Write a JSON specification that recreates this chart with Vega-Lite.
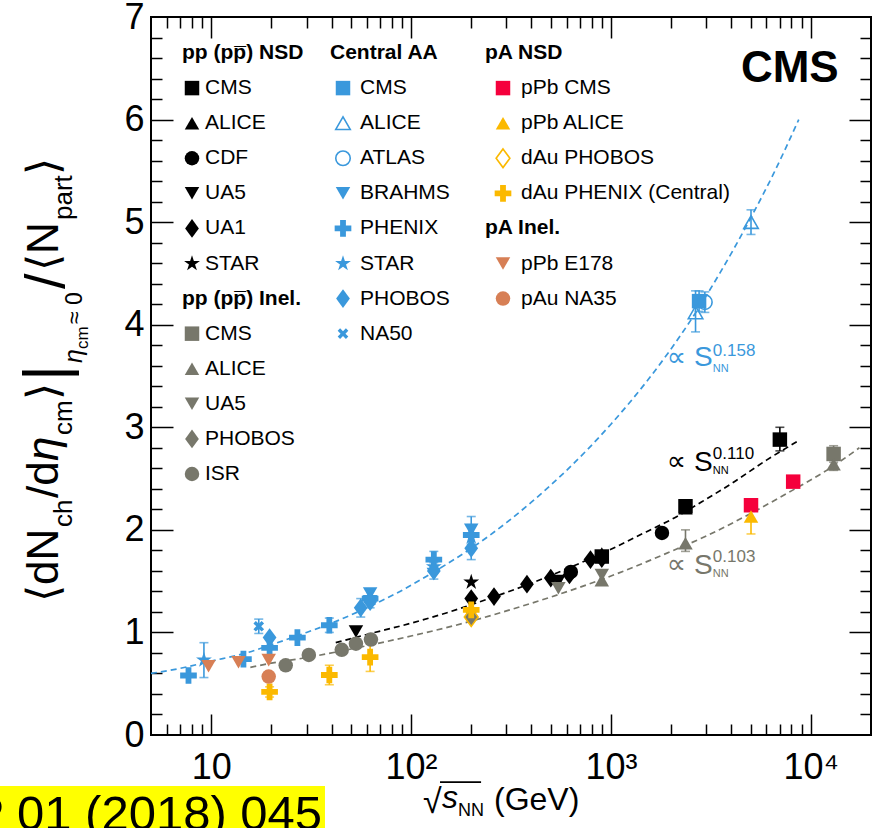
{
"$schema": "https://vega.github.io/schema/vega-lite/v6.json",
"width": 720, "height": 718,
"autosize": "none",
"padding": {"left": 151, "top": 17, "right": 1, "bottom": 93},
"background": "white",
"config": {
  "view": {"stroke": "#000", "strokeWidth": 2},
  "axis": {"grid": false, "domain": false, "tickColor": "#000", "tickWidth": 1.5, "labelFont": "Liberation Sans", "labelColor": "#000"},
  "text": {"font": "Liberation Sans"}
},
"datasets": {
  "points": [
    {"series":"NSD CMS","x":900,"y":1.74},
    {"series":"NSD CMS","x":2360,"y":2.23,"lo":2.17,"hi":2.29},
    {"series":"NSD CMS","x":7000,"y":2.88,"lo":2.77,"hi":3.0},
    {"series":"NSD ALICE","x":900,"y":1.77},
    {"series":"NSD ALICE","x":2360,"y":2.21},
    {"series":"NSD CDF","x":630,"y":1.59},
    {"series":"NSD CDF","x":1800,"y":1.97,"lo":1.93,"hi":2.01},
    {"series":"NSD UA5","x":53,"y":1.01},
    {"series":"NSD UA5","x":546,"y":1.5},
    {"series":"NSD UA5","x":900,"y":1.7},
    {"series":"NSD UA1","x":200,"y":1.33},
    {"series":"NSD UA1","x":260,"y":1.35},
    {"series":"NSD UA1","x":380,"y":1.47},
    {"series":"NSD UA1","x":500,"y":1.53},
    {"series":"NSD UA1","x":620,"y":1.56},
    {"series":"NSD UA1","x":790,"y":1.71},
    {"series":"NSD UA1","x":900,"y":1.72},
    {"series":"NSD STAR","x":200,"y":1.49},
    {"series":"Inel CMS","x":13000,"y":2.74,"lo":2.66,"hi":2.82},
    {"series":"Inel ALICE","x":900,"y":1.51},
    {"series":"Inel ALICE","x":2360,"y":1.87,"lo":1.79,"hi":2.0},
    {"series":"Inel ALICE","x":13000,"y":2.64,"lo":2.58,"hi":2.7},
    {"series":"Inel UA5","x":200,"y":1.17},
    {"series":"Inel UA5","x":546,"y":1.43},
    {"series":"Inel UA5","x":900,"y":1.56},
    {"series":"Inel PHOBOS","x":200,"y":1.15},
    {"series":"Inel ISR","x":23.6,"y":0.68},
    {"series":"Inel ISR","x":30.8,"y":0.78},
    {"series":"Inel ISR","x":45,"y":0.83},
    {"series":"Inel ISR","x":53,"y":0.89},
    {"series":"Inel ISR","x":63,"y":0.93},
    {"series":"AA CMS","x":2760,"y":4.23,"lo":4.13,"hi":4.33},
    {"series":"AA ALICE","x":2650,"y":4.12,"lo":3.93,"hi":4.33},
    {"series":"AA ALICE","x":5020,"y":5.0,"lo":4.88,"hi":5.12},
    {"series":"AA ATLAS","x":2950,"y":4.22,"lo":4.12,"hi":4.32},
    {"series":"AA BRAHMS","x":62.4,"y":1.38},
    {"series":"AA BRAHMS","x":130,"y":1.57},
    {"series":"AA BRAHMS","x":200,"y":2.0},
    {"series":"AA PHENIX","x":7.7,"y":0.58},
    {"series":"AA PHENIX","x":14.5,"y":0.74},
    {"series":"AA PHENIX","x":19.6,"y":0.85},
    {"series":"AA PHENIX","x":27,"y":0.95},
    {"series":"AA PHENIX","x":39,"y":1.07,"lo":1.0,"hi":1.14},
    {"series":"AA PHENIX","x":62.4,"y":1.33,"lo":1.24,"hi":1.42},
    {"series":"AA PHENIX","x":130,"y":1.71,"lo":1.63,"hi":1.79},
    {"series":"AA PHENIX","x":200,"y":1.95,"lo":1.86,"hi":2.05},
    {"series":"AA STAR","x":9.2,"y":0.73,"lo":0.56,"hi":0.9},
    {"series":"AA STAR","x":62.4,"y":1.34},
    {"series":"AA STAR","x":130,"y":1.64},
    {"series":"AA STAR","x":200,"y":1.93,"lo":1.8,"hi":2.13},
    {"series":"AA PHOBOS","x":19.6,"y":0.95},
    {"series":"AA PHOBOS","x":56,"y":1.24,"lo":1.15,"hi":1.33},
    {"series":"AA PHOBOS","x":62.4,"y":1.3},
    {"series":"AA PHOBOS","x":130,"y":1.6,"lo":1.52,"hi":1.68},
    {"series":"AA PHOBOS","x":200,"y":1.82,"lo":1.71,"hi":1.93},
    {"series":"AA NA50","x":17.3,"y":1.06,"lo":0.99,"hi":1.13},
    {"series":"pPb CMS","x":5020,"y":2.24},
    {"series":"pPb CMS","x":8160,"y":2.47},
    {"series":"pPb ALICE","x":5020,"y":2.13,"lo":1.96,"hi":2.3},
    {"series":"dAu PHOBOS","x":200,"y":1.15},
    {"series":"dAu PHENIX","x":19.6,"y":0.42,"lo":0.37,"hi":0.47},
    {"series":"dAu PHENIX","x":39,"y":0.585,"lo":0.49,"hi":0.68},
    {"series":"dAu PHENIX","x":62.4,"y":0.76,"lo":0.62,"hi":0.9},
    {"series":"dAu PHENIX","x":200,"y":1.22,"lo":1.12,"hi":1.32},
    {"series":"pPb E178","x":9.7,"y":0.67},
    {"series":"pPb E178","x":13.7,"y":0.71},
    {"series":"pPb E178","x":19.4,"y":0.73},
    {"series":"pAu NA35","x":19.4,"y":0.57}
  ],
  "fits": [
    {"series":"fit AA","x":5,"y":0.6},{"series":"fit AA","x":7,"y":0.65},{"series":"fit AA","x":10,"y":0.72},{"series":"fit AA","x":15,"y":0.8},{"series":"fit AA","x":20,"y":0.88},{"series":"fit AA","x":30,"y":1.0},{"series":"fit AA","x":40,"y":1.09},{"series":"fit AA","x":60,"y":1.24},{"series":"fit AA","x":88,"y":1.4},{"series":"fit AA","x":130,"y":1.59},{"series":"fit AA","x":200,"y":1.82},{"series":"fit AA","x":300,"y":2.07},{"series":"fit AA","x":400,"y":2.27},{"series":"fit AA","x":600,"y":2.58},{"series":"fit AA","x":1000,"y":3.03},{"series":"fit AA","x":1500,"y":3.44},{"series":"fit AA","x":2500,"y":4.04},{"series":"fit AA","x":3500,"y":4.5},{"series":"fit AA","x":5000,"y":5.04},{"series":"fit AA","x":6500,"y":5.47},{"series":"fit AA","x":8700,"y":6.0},
    {"series":"fit NSD","x":42,"y":0.9},{"series":"fit NSD","x":60,"y":0.98},{"series":"fit NSD","x":100,"y":1.09},{"series":"fit NSD","x":150,"y":1.19},{"series":"fit NSD","x":200,"y":1.27},{"series":"fit NSD","x":300,"y":1.39},{"series":"fit NSD","x":400,"y":1.48},{"series":"fit NSD","x":600,"y":1.62},{"series":"fit NSD","x":1000,"y":1.81},{"series":"fit NSD","x":1500,"y":1.98},{"series":"fit NSD","x":2000,"y":2.1},{"series":"fit NSD","x":3000,"y":2.3},{"series":"fit NSD","x":4000,"y":2.45},{"series":"fit NSD","x":6000,"y":2.68},{"series":"fit NSD","x":8700,"y":2.87},
    {"series":"fit Inel","x":15.7,"y":0.66},{"series":"fit Inel","x":20,"y":0.7},{"series":"fit Inel","x":30,"y":0.755},{"series":"fit Inel","x":45,"y":0.82},{"series":"fit Inel","x":60,"y":0.87},{"series":"fit Inel","x":100,"y":0.965},{"series":"fit Inel","x":200,"y":1.11},{"series":"fit Inel","x":300,"y":1.21},{"series":"fit Inel","x":500,"y":1.345},{"series":"fit Inel","x":1000,"y":1.55},{"series":"fit Inel","x":2000,"y":1.79},{"series":"fit Inel","x":3000,"y":1.94},{"series":"fit Inel","x":5000,"y":2.16},{"series":"fit Inel","x":8000,"y":2.38},{"series":"fit Inel","x":12000,"y":2.58},{"series":"fit Inel","x":17500,"y":2.8}
  ],
  "legend": [
    {"col":0,"row":0,"kind":"h","label":"pp (pp̅) NSD"},
    {"col":0,"row":1,"series":"NSD CMS","label":"CMS"},
    {"col":0,"row":2,"series":"NSD ALICE","label":"ALICE"},
    {"col":0,"row":3,"series":"NSD CDF","label":"CDF"},
    {"col":0,"row":4,"series":"NSD UA5","label":"UA5"},
    {"col":0,"row":5,"series":"NSD UA1","label":"UA1"},
    {"col":0,"row":6,"series":"NSD STAR","label":"STAR"},
    {"col":0,"row":7,"kind":"h","label":"pp (pp̅) Inel."},
    {"col":0,"row":8,"series":"Inel CMS","label":"CMS"},
    {"col":0,"row":9,"series":"Inel ALICE","label":"ALICE"},
    {"col":0,"row":10,"series":"Inel UA5","label":"UA5"},
    {"col":0,"row":11,"series":"Inel PHOBOS","label":"PHOBOS"},
    {"col":0,"row":12,"series":"Inel ISR","label":"ISR"},
    {"col":1,"row":0,"kind":"h","label":"Central AA"},
    {"col":1,"row":1,"series":"AA CMS","label":"CMS"},
    {"col":1,"row":2,"series":"AA ALICE","label":"ALICE"},
    {"col":1,"row":3,"series":"AA ATLAS","label":"ATLAS"},
    {"col":1,"row":4,"series":"AA BRAHMS","label":"BRAHMS"},
    {"col":1,"row":5,"series":"AA PHENIX","label":"PHENIX"},
    {"col":1,"row":6,"series":"AA STAR","label":"STAR"},
    {"col":1,"row":7,"series":"AA PHOBOS","label":"PHOBOS"},
    {"col":1,"row":8,"series":"AA NA50","label":"NA50"},
    {"col":2,"row":0,"kind":"h","label":"pA NSD"},
    {"col":2,"row":1,"series":"pPb CMS","label":"pPb CMS"},
    {"col":2,"row":2,"series":"pPb ALICE","label":"pPb ALICE"},
    {"col":2,"row":3,"series":"dAu PHOBOS","label":"dAu PHOBOS"},
    {"col":2,"row":4,"series":"dAu PHENIX","label":"dAu PHENIX (Central)"},
    {"col":2,"row":5,"kind":"h","label":"pA Inel."},
    {"col":2,"row":6,"series":"pPb E178","label":"pPb E178"},
    {"col":2,"row":7,"series":"pAu NA35","label":"pAu NA35"}
  ]
},
"data": {"values": [{}]},
"layer": [
  {
    "layer": [
      {
        "data": {"name": "fits"},
        "mark": {"type": "line", "strokeDash": [6, 4], "strokeWidth": 1.7, "interpolate": "monotone"},
        "encoding": {
          "x": {"field": "x", "type": "quantitative", "scale": {"type": "log", "domain": [5, 20000], "nice": false},
                "axis": {"orient": "bottom", "values": [10, 100, 1000, 10000], "labelExpr": "datum.value == 10 ? '10' : datum.value == 100 ? '10²' : datum.value == 1000 ? '10³' : '10⁴'", "ticks": false, "labelFontSize": 36, "labelPadding": 15, "labelOverlap": false, "labelFlush": false, "title": null}},
          "y": {"field": "y", "type": "quantitative", "scale": {"domain": [0, 7], "nice": false, "zero": true},
                "axis": {"orient": "left", "values": [0, 1, 2, 3, 4, 5, 6, 7], "ticks": false, "labelFontSize": 36, "labelPadding": 7, "labelOverlap": false, "labelFlush": false, "title": null}},
          "color": {"field": "series", "type": "nominal", "legend": null,
            "scale": {"domain": ["NSD CMS","NSD ALICE","NSD CDF","NSD UA5","NSD UA1","NSD STAR","Inel CMS","Inel ALICE","Inel UA5","Inel PHOBOS","Inel ISR","AA CMS","AA ALICE","AA ATLAS","AA BRAHMS","AA PHENIX","AA STAR","AA PHOBOS","AA NA50","pPb CMS","pPb ALICE","dAu PHOBOS","dAu PHENIX","pPb E178","pAu NA35","fit AA","fit NSD","fit Inel"],
                      "range": ["#000000","#000000","#000000","#000000","#000000","#000000","#77776b","#77776b","#77776b","#77776b","#77776b","#3a98dc","#3a98dc","#3a98dc","#3a98dc","#3a98dc","#3a98dc","#3a98dc","#3a98dc","#f5003c","#fbb900","#fbb900","#fbb900","#d77f55","#d77f55","#3a98dc","#000000","#77776b"]}}
        }
      },
      {
        "data": {"name": "points"},
        "transform": [{"filter": "isValid(datum.lo)"}],
        "mark": {"type": "rule", "strokeWidth": 1.6},
        "encoding": {
          "x": {"field": "x", "type": "quantitative", "axis": {"orient": "bottom", "values": [10, 100, 1000, 10000], "labels": false, "tickSize": -21, "title": null}},
          "y": {"field": "lo", "type": "quantitative", "axis": {"orient": "left", "values": [1, 2, 3, 4, 5, 6], "labels": false, "tickSize": -22, "title": null}},
          "y2": {"field": "hi"},
          "color": {"field": "series", "type": "nominal", "legend": null,
            "scale": {"domain": ["NSD CMS","NSD ALICE","NSD CDF","NSD UA5","NSD UA1","NSD STAR","Inel CMS","Inel ALICE","Inel UA5","Inel PHOBOS","Inel ISR","AA CMS","AA ALICE","AA ATLAS","AA BRAHMS","AA PHENIX","AA STAR","AA PHOBOS","AA NA50","pPb CMS","pPb ALICE","dAu PHOBOS","dAu PHENIX","pPb E178","pAu NA35","fit AA","fit NSD","fit Inel"],
                      "range": ["#000000","#000000","#000000","#000000","#000000","#000000","#77776b","#77776b","#77776b","#77776b","#77776b","#3a98dc","#3a98dc","#3a98dc","#3a98dc","#3a98dc","#3a98dc","#3a98dc","#3a98dc","#f5003c","#fbb900","#fbb900","#fbb900","#d77f55","#d77f55","#3a98dc","#000000","#77776b"]}}
        }
      },
      {
        "data": {"name": "points"},
        "transform": [{"filter": "isValid(datum.lo)"}, {"fold": ["lo", "hi"], "as": ["end", "yv"]}],
        "mark": {"type": "tick", "orient": "horizontal", "size": 9, "thickness": 1.6},
        "encoding": {
          "x": {"field": "x", "type": "quantitative", "axis": {"orient": "bottom", "values": [6,7,8,9,20,30,40,50,60,70,80,90,200,300,400,500,600,700,800,900,2000,3000,4000,5000,6000,7000,8000,9000], "labels": false, "tickSize": -11, "title": null}},
          "y": {"field": "yv", "type": "quantitative", "axis": {"orient": "left", "values": [0.2,0.4,0.6,0.8,1.2,1.4,1.6,1.8,2.2,2.4,2.6,2.8,3.2,3.4,3.6,3.8,4.2,4.4,4.6,4.8,5.2,5.4,5.6,5.8,6.2,6.4,6.6,6.8], "labels": false, "tickSize": -11, "title": null}},
          "color": {"field": "series", "type": "nominal", "legend": null,
            "scale": {"domain": ["NSD CMS","NSD ALICE","NSD CDF","NSD UA5","NSD UA1","NSD STAR","Inel CMS","Inel ALICE","Inel UA5","Inel PHOBOS","Inel ISR","AA CMS","AA ALICE","AA ATLAS","AA BRAHMS","AA PHENIX","AA STAR","AA PHOBOS","AA NA50","pPb CMS","pPb ALICE","dAu PHOBOS","dAu PHENIX","pPb E178","pAu NA35","fit AA","fit NSD","fit Inel"],
                      "range": ["#000000","#000000","#000000","#000000","#000000","#000000","#77776b","#77776b","#77776b","#77776b","#77776b","#3a98dc","#3a98dc","#3a98dc","#3a98dc","#3a98dc","#3a98dc","#3a98dc","#3a98dc","#f5003c","#fbb900","#fbb900","#fbb900","#d77f55","#d77f55","#3a98dc","#000000","#77776b"]}}
        }
      },
      {
        "data": {"name": "points"},
        "transform": [{"filter": "indexof(['AA ALICE','AA ATLAS','dAu PHOBOS'], datum.series) < 0"}],
        "mark": {"type": "point", "filled": true, "size": 210, "opacity": 1},
        "encoding": {
          "x": {"field": "x", "type": "quantitative", "axis": {"orient": "top", "values": [10, 100, 1000, 10000], "labels": false, "tickSize": -21, "title": null}},
          "y": {"field": "y", "type": "quantitative", "axis": {"orient": "right", "values": [1, 2, 3, 4, 5, 6], "labels": false, "tickSize": -22, "title": null}},
          "color": {"field": "series", "type": "nominal", "legend": null,
            "scale": {"domain": ["NSD CMS","NSD ALICE","NSD CDF","NSD UA5","NSD UA1","NSD STAR","Inel CMS","Inel ALICE","Inel UA5","Inel PHOBOS","Inel ISR","AA CMS","AA ALICE","AA ATLAS","AA BRAHMS","AA PHENIX","AA STAR","AA PHOBOS","AA NA50","pPb CMS","pPb ALICE","dAu PHOBOS","dAu PHENIX","pPb E178","pAu NA35","fit AA","fit NSD","fit Inel"],
                      "range": ["#000000","#000000","#000000","#000000","#000000","#000000","#77776b","#77776b","#77776b","#77776b","#77776b","#3a98dc","#3a98dc","#3a98dc","#3a98dc","#3a98dc","#3a98dc","#3a98dc","#3a98dc","#f5003c","#fbb900","#fbb900","#fbb900","#d77f55","#d77f55","#3a98dc","#000000","#77776b"]}},
          "shape": {"field": "series", "type": "nominal", "legend": null,
            "scale": {"domain": ["NSD CMS","NSD ALICE","NSD CDF","NSD UA5","NSD UA1","NSD STAR","Inel CMS","Inel ALICE","Inel UA5","Inel PHOBOS","Inel ISR","AA CMS","AA ALICE","AA ATLAS","AA BRAHMS","AA PHENIX","AA STAR","AA PHOBOS","AA NA50","pPb CMS","pPb ALICE","dAu PHOBOS","dAu PHENIX","pPb E178","pAu NA35"],
                      "range": ["square","triangle-up","circle","triangle-down","M0,-1.29L0.95,0L0,1.29L-0.95,0Z","M0,-1.15L0.259,-0.356L1.094,-0.355L0.418,0.136L0.676,0.93L0,0.44L-0.676,0.93L-0.418,0.136L-1.094,-0.355L-0.259,-0.356Z","square","triangle-up","triangle-down","M0,-1.29L0.95,0L0,1.29L-0.95,0Z","circle","square","triangle-up","circle","triangle-down","M-1.15,-0.4L-0.4,-0.4L-0.4,-1.15L0.4,-1.15L0.4,-0.4L1.15,-0.4L1.15,0.4L0.4,0.4L0.4,1.15L-0.4,1.15L-0.4,0.4L-1.15,0.4Z","M0,-1.15L0.259,-0.356L1.094,-0.355L0.418,0.136L0.676,0.93L0,0.44L-0.676,0.93L-0.418,0.136L-1.094,-0.355L-0.259,-0.356Z","M0,-1.29L0.95,0L0,1.29L-0.95,0Z","M-0.4,-0.735L0,-0.339L0.4,-0.735L0.735,-0.4L0.339,0L0.735,0.4L0.4,0.735L0,0.339L-0.4,0.735L-0.735,0.4L-0.339,0L-0.735,-0.4Z","square","triangle-up","M0,-1.29L0.95,0L0,1.29L-0.95,0Z","M-1.15,-0.4L-0.4,-0.4L-0.4,-1.15L0.4,-1.15L0.4,-0.4L1.15,-0.4L1.15,0.4L0.4,0.4L0.4,1.15L-0.4,1.15L-0.4,0.4L-1.15,0.4Z","triangle-down","circle"]}}
        }
      },
      {
        "data": {"name": "points"},
        "transform": [{"filter": "indexof(['AA ALICE','AA ATLAS','dAu PHOBOS'], datum.series) >= 0"}],
        "mark": {"type": "point", "filled": false, "size": 210, "opacity": 1, "strokeWidth": 1.6},
        "encoding": {
          "x": {"field": "x", "type": "quantitative", "axis": {"orient": "top", "values": [6,7,8,9,20,30,40,50,60,70,80,90,200,300,400,500,600,700,800,900,2000,3000,4000,5000,6000,7000,8000,9000], "labels": false, "tickSize": -11, "title": null}},
          "y": {"field": "y", "type": "quantitative", "axis": {"orient": "right", "values": [0.2,0.4,0.6,0.8,1.2,1.4,1.6,1.8,2.2,2.4,2.6,2.8,3.2,3.4,3.6,3.8,4.2,4.4,4.6,4.8,5.2,5.4,5.6,5.8,6.2,6.4,6.6,6.8], "labels": false, "tickSize": -11, "title": null}},
          "color": {"field": "series", "type": "nominal", "legend": null,
            "scale": {"domain": ["NSD CMS","NSD ALICE","NSD CDF","NSD UA5","NSD UA1","NSD STAR","Inel CMS","Inel ALICE","Inel UA5","Inel PHOBOS","Inel ISR","AA CMS","AA ALICE","AA ATLAS","AA BRAHMS","AA PHENIX","AA STAR","AA PHOBOS","AA NA50","pPb CMS","pPb ALICE","dAu PHOBOS","dAu PHENIX","pPb E178","pAu NA35","fit AA","fit NSD","fit Inel"],
                      "range": ["#000000","#000000","#000000","#000000","#000000","#000000","#77776b","#77776b","#77776b","#77776b","#77776b","#3a98dc","#3a98dc","#3a98dc","#3a98dc","#3a98dc","#3a98dc","#3a98dc","#3a98dc","#f5003c","#fbb900","#fbb900","#fbb900","#d77f55","#d77f55","#3a98dc","#000000","#77776b"]}},
          "shape": {"field": "series", "type": "nominal", "legend": null,
            "scale": {"domain": ["NSD CMS","NSD ALICE","NSD CDF","NSD UA5","NSD UA1","NSD STAR","Inel CMS","Inel ALICE","Inel UA5","Inel PHOBOS","Inel ISR","AA CMS","AA ALICE","AA ATLAS","AA BRAHMS","AA PHENIX","AA STAR","AA PHOBOS","AA NA50","pPb CMS","pPb ALICE","dAu PHOBOS","dAu PHENIX","pPb E178","pAu NA35"],
                      "range": ["square","triangle-up","circle","triangle-down","M0,-1.29L0.95,0L0,1.29L-0.95,0Z","M0,-1.15L0.259,-0.356L1.094,-0.355L0.418,0.136L0.676,0.93L0,0.44L-0.676,0.93L-0.418,0.136L-1.094,-0.355L-0.259,-0.356Z","square","triangle-up","triangle-down","M0,-1.29L0.95,0L0,1.29L-0.95,0Z","circle","square","triangle-up","circle","triangle-down","M-1.15,-0.4L-0.4,-0.4L-0.4,-1.15L0.4,-1.15L0.4,-0.4L1.15,-0.4L1.15,0.4L0.4,0.4L0.4,1.15L-0.4,1.15L-0.4,0.4L-1.15,0.4Z","M0,-1.15L0.259,-0.356L1.094,-0.355L0.418,0.136L0.676,0.93L0,0.44L-0.676,0.93L-0.418,0.136L-1.094,-0.355L-0.259,-0.356Z","M0,-1.29L0.95,0L0,1.29L-0.95,0Z","M-0.4,-0.735L0,-0.339L0.4,-0.735L0.735,-0.4L0.339,0L0.735,0.4L0.4,0.735L0,0.339L-0.4,0.735L-0.735,0.4L-0.339,0L-0.735,-0.4Z","square","triangle-up","M0,-1.29L0.95,0L0,1.29L-0.95,0Z","M-1.15,-0.4L-0.4,-0.4L-0.4,-1.15L0.4,-1.15L0.4,-0.4L1.15,-0.4L1.15,0.4L0.4,0.4L0.4,1.15L-0.4,1.15L-0.4,0.4L-1.15,0.4Z","triangle-down","circle"]}}
        }
      },
      {"mark": {"type": "text", "text": "∝", "fontSize": 27, "font": "DejaVu Sans", "align": "left", "baseline": "alphabetic", "color": "#3a98dc"}, "encoding": {"x": {"datum": 1900, "type": "quantitative", "axis": null}, "y": {"datum": 3.6, "type": "quantitative", "axis": null}}},
      {"mark": {"type": "text", "text": "S", "fontSize": 28, "align": "left", "baseline": "alphabetic", "color": "#3a98dc"}, "encoding": {"x": {"datum": 2600, "type": "quantitative", "axis": null}, "y": {"datum": 3.594, "type": "quantitative", "axis": null}}},
      {"mark": {"type": "text", "text": "0.158", "fontSize": 17, "align": "left", "baseline": "alphabetic", "color": "#3a98dc"}, "encoding": {"x": {"datum": 3235, "type": "quantitative", "axis": null}, "y": {"datum": 3.691, "type": "quantitative", "axis": null}}},
      {"mark": {"type": "text", "text": "NN", "fontSize": 11, "align": "left", "baseline": "alphabetic", "color": "#3a98dc"}, "encoding": {"x": {"datum": 3235, "type": "quantitative", "axis": null}, "y": {"datum": 3.54, "type": "quantitative", "axis": null}}},
      {"mark": {"type": "text", "text": "∝", "fontSize": 27, "font": "DejaVu Sans", "align": "left", "baseline": "alphabetic", "color": "#000000"}, "encoding": {"x": {"datum": 1900, "type": "quantitative", "axis": null}, "y": {"datum": 2.584, "type": "quantitative", "axis": null}}},
      {"mark": {"type": "text", "text": "S", "fontSize": 28, "align": "left", "baseline": "alphabetic", "color": "#000000"}, "encoding": {"x": {"datum": 2600, "type": "quantitative", "axis": null}, "y": {"datum": 2.578, "type": "quantitative", "axis": null}}},
      {"mark": {"type": "text", "text": "0.110", "fontSize": 17, "align": "left", "baseline": "alphabetic", "color": "#000000"}, "encoding": {"x": {"datum": 3235, "type": "quantitative", "axis": null}, "y": {"datum": 2.695, "type": "quantitative", "axis": null}}},
      {"mark": {"type": "text", "text": "NN", "fontSize": 11, "align": "left", "baseline": "alphabetic", "color": "#000000"}, "encoding": {"x": {"datum": 3235, "type": "quantitative", "axis": null}, "y": {"datum": 2.544, "type": "quantitative", "axis": null}}},
      {"mark": {"type": "text", "text": "∝", "fontSize": 27, "font": "DejaVu Sans", "align": "left", "baseline": "alphabetic", "color": "#77776b"}, "encoding": {"x": {"datum": 1900, "type": "quantitative", "axis": null}, "y": {"datum": 1.578, "type": "quantitative", "axis": null}}},
      {"mark": {"type": "text", "text": "S", "fontSize": 28, "align": "left", "baseline": "alphabetic", "color": "#77776b"}, "encoding": {"x": {"datum": 2600, "type": "quantitative", "axis": null}, "y": {"datum": 1.572, "type": "quantitative", "axis": null}}},
      {"mark": {"type": "text", "text": "0.103", "fontSize": 17, "align": "left", "baseline": "alphabetic", "color": "#77776b"}, "encoding": {"x": {"datum": 3235, "type": "quantitative", "axis": null}, "y": {"datum": 1.69, "type": "quantitative", "axis": null}}},
      {"mark": {"type": "text", "text": "NN", "fontSize": 11, "align": "left", "baseline": "alphabetic", "color": "#77776b"}, "encoding": {"x": {"datum": 3235, "type": "quantitative", "axis": null}, "y": {"datum": 1.538, "type": "quantitative", "axis": null}}},
      {"mark": {"type": "text", "text": "CMS", "fontSize": 44, "fontWeight": "bold", "align": "center", "baseline": "alphabetic", "color": "#000000"}, "encoding": {"x": {"datum": 7852, "type": "quantitative", "axis": null}, "y": {"datum": 6.37, "type": "quantitative", "axis": null}}},
      {"mark": {"type": "text", "text": "⟨dN", "angle": 270, "fontSize": 44, "align": "left", "baseline": "alphabetic", "color": "#000000"}, "encoding": {"x": {"datum": 1.718, "type": "quantitative", "axis": null}, "y": {"datum": 1.297, "type": "quantitative", "axis": null}}},
      {"mark": {"type": "text", "text": "ch", "angle": 270, "fontSize": 26, "align": "left", "baseline": "alphabetic", "color": "#000000"}, "encoding": {"x": {"datum": 2.018, "type": "quantitative", "axis": null}, "y": {"datum": 2.028, "type": "quantitative", "axis": null}}},
      {"mark": {"type": "text", "text": "/d", "angle": 270, "fontSize": 44, "align": "left", "baseline": "alphabetic", "color": "#000000"}, "encoding": {"x": {"datum": 1.718, "type": "quantitative", "axis": null}, "y": {"datum": 2.311, "type": "quantitative", "axis": null}}},
      {"mark": {"type": "text", "text": "η", "angle": 270, "fontSize": 44, "fontStyle": "italic", "align": "left", "baseline": "alphabetic", "color": "#000000"}, "encoding": {"x": {"datum": 1.718, "type": "quantitative", "axis": null}, "y": {"datum": 2.671, "type": "quantitative", "axis": null}}},
      {"mark": {"type": "text", "text": "cm", "angle": 270, "fontSize": 26, "align": "left", "baseline": "alphabetic", "color": "#000000"}, "encoding": {"x": {"datum": 2.018, "type": "quantitative", "axis": null}, "y": {"datum": 2.925, "type": "quantitative", "axis": null}}},
      {"mark": {"type": "text", "text": "⟩", "angle": 270, "fontSize": 44, "align": "left", "baseline": "alphabetic", "color": "#000000"}, "encoding": {"x": {"datum": 1.718, "type": "quantitative", "axis": null}, "y": {"datum": 3.266, "type": "quantitative", "axis": null}}},
      {"mark": {"type": "text", "text": "|", "angle": 270, "fontSize": 62, "align": "left", "baseline": "alphabetic", "color": "#000000"}, "encoding": {"x": {"datum": 1.884, "type": "quantitative", "axis": null}, "y": {"datum": 3.451, "type": "quantitative", "axis": null}}},
      {"mark": {"type": "text", "text": "η", "angle": 270, "fontSize": 25, "fontStyle": "italic", "align": "left", "baseline": "alphabetic", "color": "#000000"}, "encoding": {"x": {"datum": 2.265, "type": "quantitative", "axis": null}, "y": {"datum": 3.627, "type": "quantitative", "axis": null}}},
      {"mark": {"type": "text", "text": "cm", "angle": 270, "fontSize": 17, "align": "left", "baseline": "alphabetic", "color": "#000000"}, "encoding": {"x": {"datum": 2.427, "type": "quantitative", "axis": null}, "y": {"datum": 3.763, "type": "quantitative", "axis": null}}},
      {"mark": {"type": "text", "text": "≈ 0", "angle": 270, "fontSize": 23, "align": "left", "baseline": "alphabetic", "color": "#000000"}, "encoding": {"x": {"datum": 2.265, "type": "quantitative", "axis": null}, "y": {"datum": 4.007, "type": "quantitative", "axis": null}}},
      {"mark": {"type": "text", "text": "/", "angle": 270, "fontSize": 56, "align": "left", "baseline": "alphabetic", "color": "#000000"}, "encoding": {"x": {"datum": 1.841, "type": "quantitative", "axis": null}, "y": {"datum": 4.348, "type": "quantitative", "axis": null}}},
      {"mark": {"type": "text", "text": "⟨N", "angle": 270, "fontSize": 44, "align": "left", "baseline": "alphabetic", "color": "#000000"}, "encoding": {"x": {"datum": 1.718, "type": "quantitative", "axis": null}, "y": {"datum": 4.524, "type": "quantitative", "axis": null}}},
      {"mark": {"type": "text", "text": "part", "angle": 270, "fontSize": 26, "align": "left", "baseline": "alphabetic", "color": "#000000"}, "encoding": {"x": {"datum": 2.018, "type": "quantitative", "axis": null}, "y": {"datum": 5.021, "type": "quantitative", "axis": null}}},
      {"mark": {"type": "text", "text": "⟩", "angle": 270, "fontSize": 44, "align": "left", "baseline": "alphabetic", "color": "#000000"}, "encoding": {"x": {"datum": 1.718, "type": "quantitative", "axis": null}, "y": {"datum": 5.46, "type": "quantitative", "axis": null}}},
      {"mark": {"type": "text", "text": "√", "fontSize": 34, "align": "left", "baseline": "alphabetic", "color": "#000000"}, "encoding": {"x": {"datum": 114.8, "type": "quantitative", "axis": null}, "y": {"datum": -0.762, "type": "quantitative", "axis": null}}},
      {"mark": {"type": "rule", "strokeWidth": 1.6, "color": "#000000"}, "encoding": {"x": {"datum": 139.6, "type": "quantitative", "axis": null}, "x2": {"datum": 224}, "y": {"datum": -0.459, "type": "quantitative", "axis": null}}},
      {"mark": {"type": "text", "text": "s", "fontSize": 32, "fontStyle": "italic", "align": "left", "baseline": "alphabetic", "color": "#000000"}, "encoding": {"x": {"datum": 142.9, "type": "quantitative", "axis": null}, "y": {"datum": -0.713, "type": "quantitative", "axis": null}}},
      {"mark": {"type": "text", "text": "NN", "fontSize": 18, "align": "left", "baseline": "alphabetic", "color": "#000000"}, "encoding": {"x": {"datum": 171.8, "type": "quantitative", "axis": null}, "y": {"datum": -0.791, "type": "quantitative", "axis": null}}},
      {"mark": {"type": "text", "text": "(GeV)", "fontSize": 32, "align": "left", "baseline": "alphabetic", "color": "#000000"}, "encoding": {"x": {"datum": 260, "type": "quantitative", "axis": null}, "y": {"datum": -0.732, "type": "quantitative", "axis": null}}},
      {"mark": {"type": "rect", "color": "#ffff00"}, "encoding": {"x": {"datum": 0.3, "type": "quantitative", "axis": null}, "x2": {"datum": 37.1}, "y": {"datum": -0.498, "type": "quantitative", "axis": null}, "y2": {"datum": -1.1}}},
      {"mark": {"type": "text", "text": "JHEP 01 (2018) 045", "fontSize": 49, "align": "right", "baseline": "alphabetic", "color": "#000000"}, "encoding": {"x": {"datum": 35.9, "type": "quantitative", "axis": null}, "y": {"datum": -0.926, "type": "quantitative", "axis": null}}}
    ],
    "resolve": {"axis": {"x": "independent", "y": "independent"}}
  },
  {
    "data": {"name": "legend"},
    "transform": [{"filter": "isValid(datum.series) && indexof(['AA ALICE','AA ATLAS','dAu PHOBOS'], datum.series) < 0"}],
    "mark": {"type": "point", "filled": true, "size": 210, "opacity": 1},
    "encoding": {
      "x": {"field": "col", "type": "quantitative", "scale": {"domain": [0, 1, 2], "range": [41, 192, 352], "nice": false, "zero": false}, "axis": null},
      "y": {"field": "row", "type": "quantitative", "scale": {"domain": [0, 12], "range": [36, 457], "nice": false, "zero": false}, "axis": null},
      "color": {"field": "series", "type": "nominal", "legend": null,
        "scale": {"domain": ["NSD CMS","NSD ALICE","NSD CDF","NSD UA5","NSD UA1","NSD STAR","Inel CMS","Inel ALICE","Inel UA5","Inel PHOBOS","Inel ISR","AA CMS","AA ALICE","AA ATLAS","AA BRAHMS","AA PHENIX","AA STAR","AA PHOBOS","AA NA50","pPb CMS","pPb ALICE","dAu PHOBOS","dAu PHENIX","pPb E178","pAu NA35","fit AA","fit NSD","fit Inel"],
                  "range": ["#000000","#000000","#000000","#000000","#000000","#000000","#77776b","#77776b","#77776b","#77776b","#77776b","#3a98dc","#3a98dc","#3a98dc","#3a98dc","#3a98dc","#3a98dc","#3a98dc","#3a98dc","#f5003c","#fbb900","#fbb900","#fbb900","#d77f55","#d77f55","#3a98dc","#000000","#77776b"]}},
      "shape": {"field": "series", "type": "nominal", "legend": null,
        "scale": {"domain": ["NSD CMS","NSD ALICE","NSD CDF","NSD UA5","NSD UA1","NSD STAR","Inel CMS","Inel ALICE","Inel UA5","Inel PHOBOS","Inel ISR","AA CMS","AA ALICE","AA ATLAS","AA BRAHMS","AA PHENIX","AA STAR","AA PHOBOS","AA NA50","pPb CMS","pPb ALICE","dAu PHOBOS","dAu PHENIX","pPb E178","pAu NA35"],
                  "range": ["square","triangle-up","circle","triangle-down","M0,-1.29L0.95,0L0,1.29L-0.95,0Z","M0,-1.15L0.259,-0.356L1.094,-0.355L0.418,0.136L0.676,0.93L0,0.44L-0.676,0.93L-0.418,0.136L-1.094,-0.355L-0.259,-0.356Z","square","triangle-up","triangle-down","M0,-1.29L0.95,0L0,1.29L-0.95,0Z","circle","square","triangle-up","circle","triangle-down","M-1.15,-0.4L-0.4,-0.4L-0.4,-1.15L0.4,-1.15L0.4,-0.4L1.15,-0.4L1.15,0.4L0.4,0.4L0.4,1.15L-0.4,1.15L-0.4,0.4L-1.15,0.4Z","M0,-1.15L0.259,-0.356L1.094,-0.355L0.418,0.136L0.676,0.93L0,0.44L-0.676,0.93L-0.418,0.136L-1.094,-0.355L-0.259,-0.356Z","M0,-1.29L0.95,0L0,1.29L-0.95,0Z","M-0.4,-0.735L0,-0.339L0.4,-0.735L0.735,-0.4L0.339,0L0.735,0.4L0.4,0.735L0,0.339L-0.4,0.735L-0.735,0.4L-0.339,0L-0.735,-0.4Z","square","triangle-up","M0,-1.29L0.95,0L0,1.29L-0.95,0Z","M-1.15,-0.4L-0.4,-0.4L-0.4,-1.15L0.4,-1.15L0.4,-0.4L1.15,-0.4L1.15,0.4L0.4,0.4L0.4,1.15L-0.4,1.15L-0.4,0.4L-1.15,0.4Z","triangle-down","circle"]}}
    }
  },
  {
    "data": {"name": "legend"},
    "transform": [{"filter": "indexof(['AA ALICE','AA ATLAS','dAu PHOBOS'], datum.series) >= 0"}],
    "mark": {"type": "point", "filled": false, "size": 210, "opacity": 1, "strokeWidth": 1.6},
    "encoding": {
      "x": {"field": "col", "type": "quantitative", "scale": {"domain": [0, 1, 2], "range": [41, 192, 352], "nice": false, "zero": false}, "axis": null},
      "y": {"field": "row", "type": "quantitative", "scale": {"domain": [0, 12], "range": [36, 457], "nice": false, "zero": false}, "axis": null},
      "color": {"field": "series", "type": "nominal", "legend": null,
        "scale": {"domain": ["NSD CMS","NSD ALICE","NSD CDF","NSD UA5","NSD UA1","NSD STAR","Inel CMS","Inel ALICE","Inel UA5","Inel PHOBOS","Inel ISR","AA CMS","AA ALICE","AA ATLAS","AA BRAHMS","AA PHENIX","AA STAR","AA PHOBOS","AA NA50","pPb CMS","pPb ALICE","dAu PHOBOS","dAu PHENIX","pPb E178","pAu NA35","fit AA","fit NSD","fit Inel"],
                  "range": ["#000000","#000000","#000000","#000000","#000000","#000000","#77776b","#77776b","#77776b","#77776b","#77776b","#3a98dc","#3a98dc","#3a98dc","#3a98dc","#3a98dc","#3a98dc","#3a98dc","#3a98dc","#f5003c","#fbb900","#fbb900","#fbb900","#d77f55","#d77f55","#3a98dc","#000000","#77776b"]}},
      "shape": {"field": "series", "type": "nominal", "legend": null,
        "scale": {"domain": ["NSD CMS","NSD ALICE","NSD CDF","NSD UA5","NSD UA1","NSD STAR","Inel CMS","Inel ALICE","Inel UA5","Inel PHOBOS","Inel ISR","AA CMS","AA ALICE","AA ATLAS","AA BRAHMS","AA PHENIX","AA STAR","AA PHOBOS","AA NA50","pPb CMS","pPb ALICE","dAu PHOBOS","dAu PHENIX","pPb E178","pAu NA35"],
                  "range": ["square","triangle-up","circle","triangle-down","M0,-1.29L0.95,0L0,1.29L-0.95,0Z","M0,-1.15L0.259,-0.356L1.094,-0.355L0.418,0.136L0.676,0.93L0,0.44L-0.676,0.93L-0.418,0.136L-1.094,-0.355L-0.259,-0.356Z","square","triangle-up","triangle-down","M0,-1.29L0.95,0L0,1.29L-0.95,0Z","circle","square","triangle-up","circle","triangle-down","M-1.15,-0.4L-0.4,-0.4L-0.4,-1.15L0.4,-1.15L0.4,-0.4L1.15,-0.4L1.15,0.4L0.4,0.4L0.4,1.15L-0.4,1.15L-0.4,0.4L-1.15,0.4Z","M0,-1.15L0.259,-0.356L1.094,-0.355L0.418,0.136L0.676,0.93L0,0.44L-0.676,0.93L-0.418,0.136L-1.094,-0.355L-0.259,-0.356Z","M0,-1.29L0.95,0L0,1.29L-0.95,0Z","M-0.4,-0.735L0,-0.339L0.4,-0.735L0.735,-0.4L0.339,0L0.735,0.4L0.4,0.735L0,0.339L-0.4,0.735L-0.735,0.4L-0.339,0L-0.735,-0.4Z","square","triangle-up","M0,-1.29L0.95,0L0,1.29L-0.95,0Z","M-1.15,-0.4L-0.4,-0.4L-0.4,-1.15L0.4,-1.15L0.4,-0.4L1.15,-0.4L1.15,0.4L0.4,0.4L0.4,1.15L-0.4,1.15L-0.4,0.4L-1.15,0.4Z","triangle-down","circle"]}}
    }
  },
  {
    "data": {"name": "legend"},
    "transform": [{"filter": "isValid(datum.series)"}],
    "mark": {"type": "text", "align": "left", "baseline": "middle", "fontSize": 21, "color": "#000000"},
    "encoding": {
      "x": {"field": "col", "type": "quantitative", "scale": {"domain": [0, 1, 2], "range": [54, 209, 370], "nice": false, "zero": false}, "axis": null},
      "y": {"field": "row", "type": "quantitative", "scale": {"domain": [0, 12], "range": [36, 457], "nice": false, "zero": false}, "axis": null},
      "text": {"field": "label"}
    }
  },
  {
    "data": {"name": "legend"},
    "transform": [{"filter": "datum.kind == 'h'"}],
    "mark": {"type": "text", "align": "left", "baseline": "middle", "fontSize": 21, "fontWeight": "bold", "color": "#000000"},
    "encoding": {
      "x": {"field": "col", "type": "quantitative", "scale": {"domain": [0, 1, 2], "range": [31, 179, 334], "nice": false, "zero": false}, "axis": null},
      "y": {"field": "row", "type": "quantitative", "scale": {"domain": [0, 12], "range": [36, 457], "nice": false, "zero": false}, "axis": null},
      "text": {"field": "label"}
    }
  }
],
"resolve": {"scale": {"x": "independent", "y": "independent"}}
}
